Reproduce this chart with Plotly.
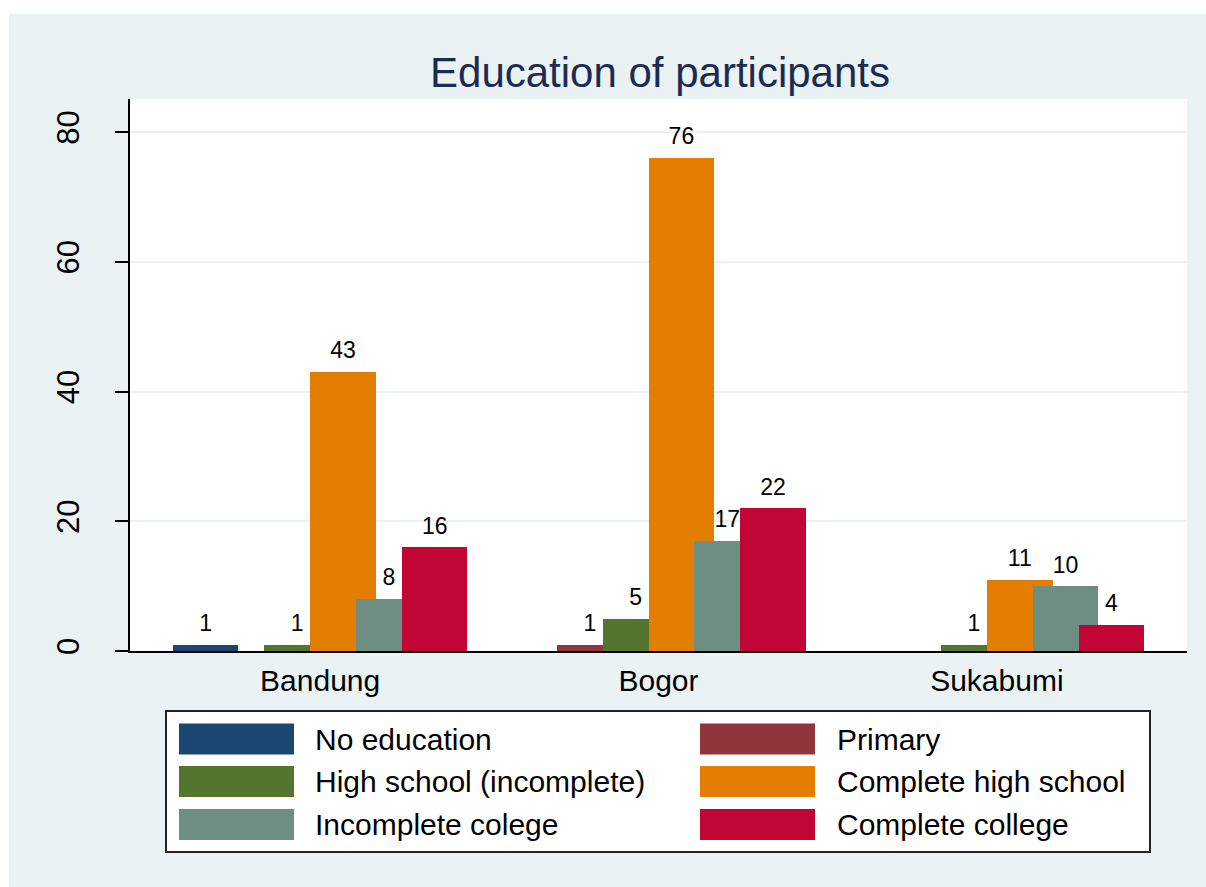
import plotly.graph_objects as go

# ---------------- data ----------------
categories = ["Bandung", "Bogor", "Sukabumi"]
series_names = ["No education", "Primary", "High school (incomplete)",
                "Complete high school", "Incomplete colege", "Complete college"]
no_education = [1, None, None]
primary = [None, 1, None]
high_school_incomplete = [1, 5, 1]
complete_high_school = [43, 76, 11]
incomplete_colege = [8, 17, 10]
complete_college = [16, 22, 4]
y_ticks = [0, 20, 40, 60, 80]
series_values = [no_education, primary, high_school_incomplete,
                 complete_high_school, incomplete_colege, complete_college]

# ---------------- style ----------------
colors = ["#1a476f", "#90353b", "#55752f", "#e37e00", "#6e8e84", "#c10534"]
BG = "#eaf2f3"
FONT = "Liberation Sans, Arial, sans-serif"
W, H = 1206, 887
ML, MR, MT, MB = 130, 19, 99, 236
PW, PH = W - ML - MR, H - MT - MB
SLOT = 0.1354   # spacing between bar slots (category units)
BARW = 0.1936   # bar width (category units)

def px_x(px):
    return (px - ML) / PW

def px_y(py):
    return (H - MB - py) / PH

xpos = list(range(len(categories)))
n = len(series_names)

fig = go.Figure()
for i, (name, vals, col) in enumerate(zip(series_names, series_values, colors)):
    center = (i - (n - 1) / 2) * SLOT
    fig.add_trace(go.Bar(
        x=xpos, y=vals, name=name,
        offset=center - BARW / 2, width=BARW,
        marker=dict(color=col, line=dict(width=0)),
        showlegend=False, hoverinfo="skip",
    ))
for i, (name, vals) in enumerate(zip(series_names, series_values)):
    center = (i - (n - 1) / 2) * SLOT
    fig.add_trace(go.Scatter(
        x=[x + center for x in xpos], y=vals,
        mode="markers+text",
        text=["" if v is None else str(v) for v in vals],
        textposition="top center",
        textfont=dict(size=23, color="black", family=FONT),
        marker=dict(size=11, opacity=0),
        showlegend=False, hoverinfo="skip", cliponaxis=False,
    ))

# ---------------- manual legend (Stata style) ----------------
shapes = []
annotations = []
# outer white strips (left / top) of the image
shapes.append(dict(type="rect", xref="paper", yref="paper", layer="above",
                   x0=px_x(0), x1=px_x(9), y0=px_y(H), y1=px_y(0),
                   fillcolor="white", line=dict(width=0)))
shapes.append(dict(type="rect", xref="paper", yref="paper", layer="above",
                   x0=px_x(0), x1=px_x(W), y0=px_y(14), y1=px_y(0),
                   fillcolor="white", line=dict(width=0)))
# legend box
shapes.append(dict(type="rect", xref="paper", yref="paper", layer="above",
                   x0=px_x(166), x1=px_x(1150), y0=px_y(852), y1=px_y(711),
                   fillcolor="white", line=dict(color="#222222", width=2)))
col_sw_x = [179, 700]
col_tx_x = [313, 835]
row_cy = [739, 781.5, 824.5]
SW_W, SW_H = 115, 31
for i, (name, col) in enumerate(zip(series_names, colors)):
    r, c = divmod(i, 2)
    cy = row_cy[r]
    shapes.append(dict(type="rect", xref="paper", yref="paper", layer="above",
                       x0=px_x(col_sw_x[c]), x1=px_x(col_sw_x[c] + SW_W),
                       y0=px_y(cy + SW_H / 2), y1=px_y(cy - SW_H / 2),
                       fillcolor=col, line=dict(width=0)))
    annotations.append(dict(xref="paper", yref="paper", x=px_x(col_tx_x[c]), y=px_y(cy),
                            xanchor="left", yanchor="middle", showarrow=False,
                            text=name, font=dict(size=30, color="black", family=FONT)))

fig.update_layout(
    width=W, height=H, autosize=False,
    margin=dict(l=ML, r=MR, t=MT, b=MB, pad=0),
    paper_bgcolor=BG, plot_bgcolor="white",
    barmode="overlay", bargap=0,
    font=dict(family=FONT, color="black"),
    title=dict(text="Education of participants", x=px_x(660), xref="paper",
               xanchor="center", y=1 - 72 / H, yref="container", yanchor="middle",
               font=dict(size=42, color="#1c2b53", family=FONT)),
    xaxis=dict(range=[-0.562, 2.562], tickvals=xpos, ticktext=categories,
               ticks="", showgrid=False, zeroline=False,
               showline=True, linecolor="black", linewidth=1.5,
               ticklabelstandoff=2,
               tickfont=dict(size=30, color="black")),
    yaxis=dict(range=[0, 85.1], tickvals=y_ticks, ticks="outside", ticklen=13,
               tickwidth=1.5, tickcolor="black", tickangle=-90,
               showline=True, linecolor="black", linewidth=1.5,
               showgrid=True, gridcolor=BG, gridwidth=2, zeroline=False,
               ticklabelstandoff=24,
               tickfont=dict(size=31, color="black")),
    shapes=shapes, annotations=annotations,
)

fig.write_html("out.html", config={"displayModeBar": False},
               post_script="document.body.style.margin='0';document.documentElement.style.overflow='hidden';")
